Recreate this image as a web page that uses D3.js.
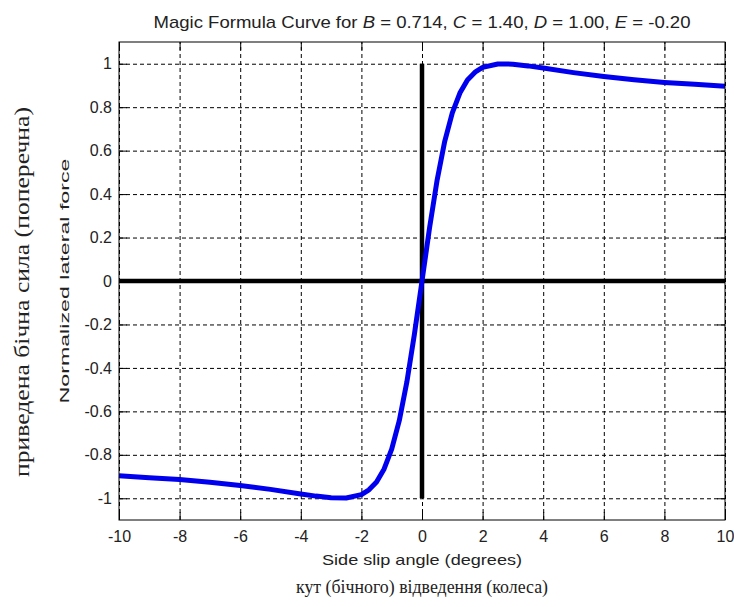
<!DOCTYPE html>
<html>
<head>
<meta charset="utf-8">
<script src="https://cdn.jsdelivr.net/npm/d3@7"></script>
<style>
  body { margin: 0; background: #fff; }
  svg text { font-family: "Liberation Sans", Arial, sans-serif; fill: #222; }
</style>
</head>
<body>
<div id="chart"></div>
<script>
// values
const slipAngle = [-10, -9, -8, -7, -6, -5, -4, -3.5, -3, -2.5, -2, -1.75, -1.5, -1.25, -1, -0.75, -0.5, -0.25,
  0, 0.25, 0.5, 0.75, 1, 1.25, 1.5, 1.75, 2, 2.5, 3, 3.5, 4, 5, 6, 7, 8, 9, 10];
const lateralForce = [-0.896, -0.905, -0.914, -0.926, -0.941, -0.959, -0.980, -0.990, -0.998, -0.999, -0.983, -0.961, -0.925, -0.865, -0.774, -0.643, -0.465, -0.245,
  0, 0.245, 0.465, 0.643, 0.774, 0.865, 0.925, 0.961, 0.983, 0.999, 0.998, 0.990, 0.980, 0.959, 0.941, 0.926, 0.914, 0.905, 0.896];
const xTicks = [-10, -8, -6, -4, -2, 0, 2, 4, 6, 8, 10];
const yTicks = [-1, -0.8, -0.6, -0.4, -0.2, 0, 0.2, 0.4, 0.6, 0.8, 1];

const W = 734, H = 607;
const margin = {top: 42, right: 9, bottom: 87, left: 119};
const width = W - margin.left - margin.right,
      height = H - margin.top - margin.bottom;

const svg = d3.select("#chart").append("svg")
    .attr("width", W).attr("height", H);

const g = svg.append("g")
    .attr("transform", "translate(" + margin.left + "," + margin.top + ")");

const x = d3.scaleLinear().domain([-10, 10]).range([0, width]);
const y = d3.scaleLinear().domain([-1.1, 1.1]).range([height, 0]);

g.append("rect").attr("width", width).attr("height", height).attr("fill", "#fff");

// dashed grid
g.append("g").attr("class", "grid")
    .attr("transform", "translate(0," + height + ")")
    .call(d3.axisBottom(x).tickValues(xTicks).tickSize(-height).tickFormat(""));
g.append("g").attr("class", "grid")
    .call(d3.axisLeft(y).tickValues(yTicks).tickSize(-width).tickFormat(""));
g.selectAll(".grid .domain").remove();
g.selectAll(".grid line").attr("stroke", "#000").attr("stroke-dasharray", "4,3").attr("stroke-width", 1);

// thick zero lines
g.append("line")
    .attr("x1", x(-10)).attr("x2", x(10)).attr("y1", y(0)).attr("y2", y(0))
    .attr("stroke", "#000").attr("stroke-width", 4.5);
g.append("line")
    .attr("x1", x(0)).attr("x2", x(0)).attr("y1", y(-1)).attr("y2", y(1))
    .attr("stroke", "#000").attr("stroke-width", 4.5);

// curve
const data = slipAngle.map((a, i) => ({a: a, f: lateralForce[i]}));
g.append("path")
    .datum(data)
    .attr("fill", "none")
    .attr("stroke", "#0000ee")
    .attr("stroke-width", 5)
    .attr("stroke-linejoin", "round")
    .attr("d", d3.line().x(d => x(d.a)).y(d => y(d.f)));

// axes, ticks pointing inward on all four sides
const fmt = d => String(+d.toFixed(1));
const xAx = g.append("g").attr("transform", "translate(0," + height + ")")
    .call(d3.axisBottom(x).tickValues(xTicks).tickSizeInner(-8).tickSizeOuter(0).tickPadding(8).tickFormat(fmt));
const yAx = g.append("g")
    .call(d3.axisLeft(y).tickValues(yTicks).tickSizeInner(-8).tickSizeOuter(0).tickPadding(7).tickFormat(fmt));
g.append("g")
    .call(d3.axisTop(x).tickValues(xTicks).tickSizeInner(-8).tickSizeOuter(0).tickFormat(""));
g.append("g").attr("transform", "translate(" + width + ",0)")
    .call(d3.axisRight(y).tickValues(yTicks).tickSizeInner(-8).tickSizeOuter(0).tickFormat(""));
g.selectAll(".domain").remove();
g.selectAll(".tick line").filter(function() { return !this.closest(".grid"); })
    .attr("stroke", "#000");
xAx.selectAll("text").attr("font-size", 16).attr("fill", "#222").attr("dy", "0.9em");
yAx.selectAll("text").attr("font-size", 16).attr("fill", "#222");

// frame
g.append("rect").attr("width", width).attr("height", height)
    .attr("fill", "none").attr("stroke", "#000").attr("stroke-width", 1);

// title
const title = svg.append("text")
    .attr("x", margin.left + width / 2).attr("y", 28)
    .attr("text-anchor", "middle").attr("font-size", 17)
    .attr("textLength", 537).attr("lengthAdjust", "spacingAndGlyphs");
[["Magic Formula Curve for ", false], ["B", true], [" = 0.714, ", false], ["C", true],
 [" = 1.40, ", false], ["D", true], [" = 1.00, ", false], ["E", true], [" = -0.20", false]]
  .forEach(p => title.append("tspan").text(p[0]).attr("font-style", p[1] ? "italic" : null));

// axis labels
svg.append("text")
    .attr("x", margin.left + width / 2).attr("y", 565)
    .attr("text-anchor", "middle").attr("font-size", 15)
    .attr("textLength", 200).attr("lengthAdjust", "spacingAndGlyphs")
    .text("Side slip angle (degrees)");
svg.append("text")
    .attr("transform", "translate(69," + (margin.top + y(0)) + ") rotate(-90)")
    .attr("text-anchor", "middle").attr("font-size", 13.5)
    .attr("textLength", 245).attr("lengthAdjust", "spacingAndGlyphs")
    .text("Normalized lateral force");

svg.append("text")
    .attr("x", margin.left + width / 2).attr("y", 593)
    .attr("text-anchor", "middle").attr("font-size", 19)
    .style("font-family", "'Liberation Serif', 'Times New Roman', serif")
    .attr("textLength", 252).attr("lengthAdjust", "spacingAndGlyphs")
    .text("кут (бічного) відведення (колеса)");
svg.append("text")
    .attr("transform", "translate(29,292) rotate(-90)")
    .attr("text-anchor", "middle").attr("font-size", 21)
    .style("font-family", "'Liberation Serif', 'Times New Roman', serif")
    .attr("textLength", 370).attr("lengthAdjust", "spacingAndGlyphs")
    .text("приведена бічна сила (поперечна)");
</script>
</body>
</html>
